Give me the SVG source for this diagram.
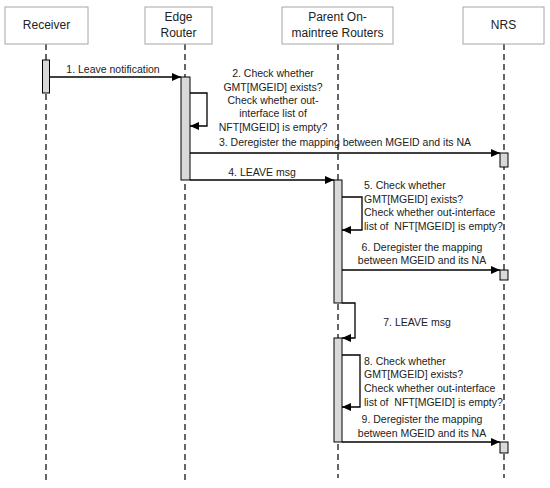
<svg xmlns="http://www.w3.org/2000/svg" width="550" height="488" viewBox="0 0 550 488">
<defs>
<marker id="ah" markerWidth="10" markerHeight="8" refX="9" refY="4" orient="auto" markerUnits="userSpaceOnUse">
<path d="M0,0 L9,4 L0,8 Z" fill="#000"/>
</marker>
<style>
.hdr{fill:#fff;stroke:#a6a6a6;stroke-width:1}
.ht{font-family:"Liberation Sans",Arial,sans-serif;font-size:12px;fill:#222;text-anchor:middle}
.life{stroke:#000;stroke-width:1.2;stroke-dasharray:6,4;fill:none}
.act{fill:#d9d9d9;stroke:#000;stroke-width:1}
.msg{stroke:#000;stroke-width:1.3;fill:none;marker-end:url(#ah)}
.lt{font-family:"Liberation Sans",Arial,sans-serif;font-size:10.5px;fill:#222;white-space:pre}
.c{text-anchor:middle}
</style>
</defs>
<rect width="550" height="488" fill="#fff"/>
<g id="lifelines">
<line class="life" x1="46" y1="44" x2="46" y2="484"/>
<line class="life" x1="185" y1="44" x2="185" y2="484"/>
<line class="life" x1="338" y1="44" x2="338" y2="478"/>
<line class="life" x1="504" y1="44" x2="504" y2="478"/>
</g>
<g id="receiver"><rect class="hdr" x="5" y="7" width="83" height="37"/><text class="ht" x="46.5" y="29">Receiver</text></g>
<g id="edge-router"><rect class="hdr" x="145" y="7" width="67" height="37"/><text class="ht" x="178.5" y="21">Edge</text><text class="ht" x="178.5" y="37">Router</text></g>
<g id="parent-routers"><rect class="hdr" x="282" y="7" width="111" height="37"/><text class="ht" x="337.5" y="21">Parent On-</text><text class="ht" x="337.5" y="37">maintree Routers</text></g>
<g id="nrs"><rect class="hdr" x="463" y="7" width="81" height="37"/><text class="ht" x="503.5" y="29">NRS</text></g>
<g id="activations">
<rect class="act" x="42.5" y="60" width="7" height="33"/>
<rect class="act" x="181" y="77" width="9" height="103"/>
<rect class="act" x="500" y="153" width="8" height="14"/>
<rect class="act" x="334" y="180" width="8" height="123"/>
<rect class="act" x="500" y="270" width="8" height="10"/>
<rect class="act" x="334" y="338" width="8" height="104"/>
<rect class="act" x="500" y="442" width="8" height="11"/>
</g>
<g id="connectors">
<line class="msg" x1="50" y1="77" x2="181" y2="77"/>
<polyline class="msg" points="190,93 207,93 207,126 190,126"/>
<line class="msg" x1="190" y1="153" x2="500" y2="153"/>
<line class="msg" x1="190" y1="180" x2="334" y2="180"/>
<polyline class="msg" points="342,197 362,197 362,230 342,230"/>
<line class="msg" x1="342" y1="270" x2="500" y2="270"/>
<polyline class="msg" points="342,303 355,303 355,338 342,338"/>
<polyline class="msg" points="342,355 360,355 360,407 342,407"/>
<line class="msg" x1="342" y1="442" x2="500" y2="442"/>
</g>
<g id="labels">
<text class="lt c" x="113" y="73">1. Leave notification</text>
<text class="lt c" x="273" y="77">2. Check whether</text>
<text class="lt c" x="273" y="91">GMT[MGEID] exists?</text>
<text class="lt c" x="273" y="104">Check whether out-</text>
<text class="lt c" x="273" y="117">interface list of</text>
<text class="lt c" x="273" y="131">NFT[MGEID] is empty?</text>
<text class="lt c" x="345" y="146">3. Deregister the mapping between MGEID and its NA</text>
<text class="lt c" x="262" y="176">4. LEAVE msg</text>
<text class="lt" x="364" y="189">5. Check whether</text>
<text class="lt" x="364" y="203">GMT[MGEID] exists?</text>
<text class="lt" x="364" y="216">Check whether out-interface</text>
<text class="lt" x="364" y="230">list of  NFT[MGEID] is empty?</text>
<text class="lt c" x="422" y="251">6. Deregister the mapping</text>
<text class="lt c" x="422" y="264">between MGEID and its NA</text>
<text class="lt c" x="417" y="326">7. LEAVE msg</text>
<text class="lt" x="364" y="365">8. Check whether</text>
<text class="lt" x="364" y="378">GMT[MGEID] exists?</text>
<text class="lt" x="364" y="392">Check whether out-interface</text>
<text class="lt" x="364" y="406">list of  NFT[MGEID] is empty?</text>
<text class="lt c" x="422" y="423">9. Deregister the mapping</text>
<text class="lt c" x="422" y="437">between MGEID and its NA</text>
</g>
</svg>
